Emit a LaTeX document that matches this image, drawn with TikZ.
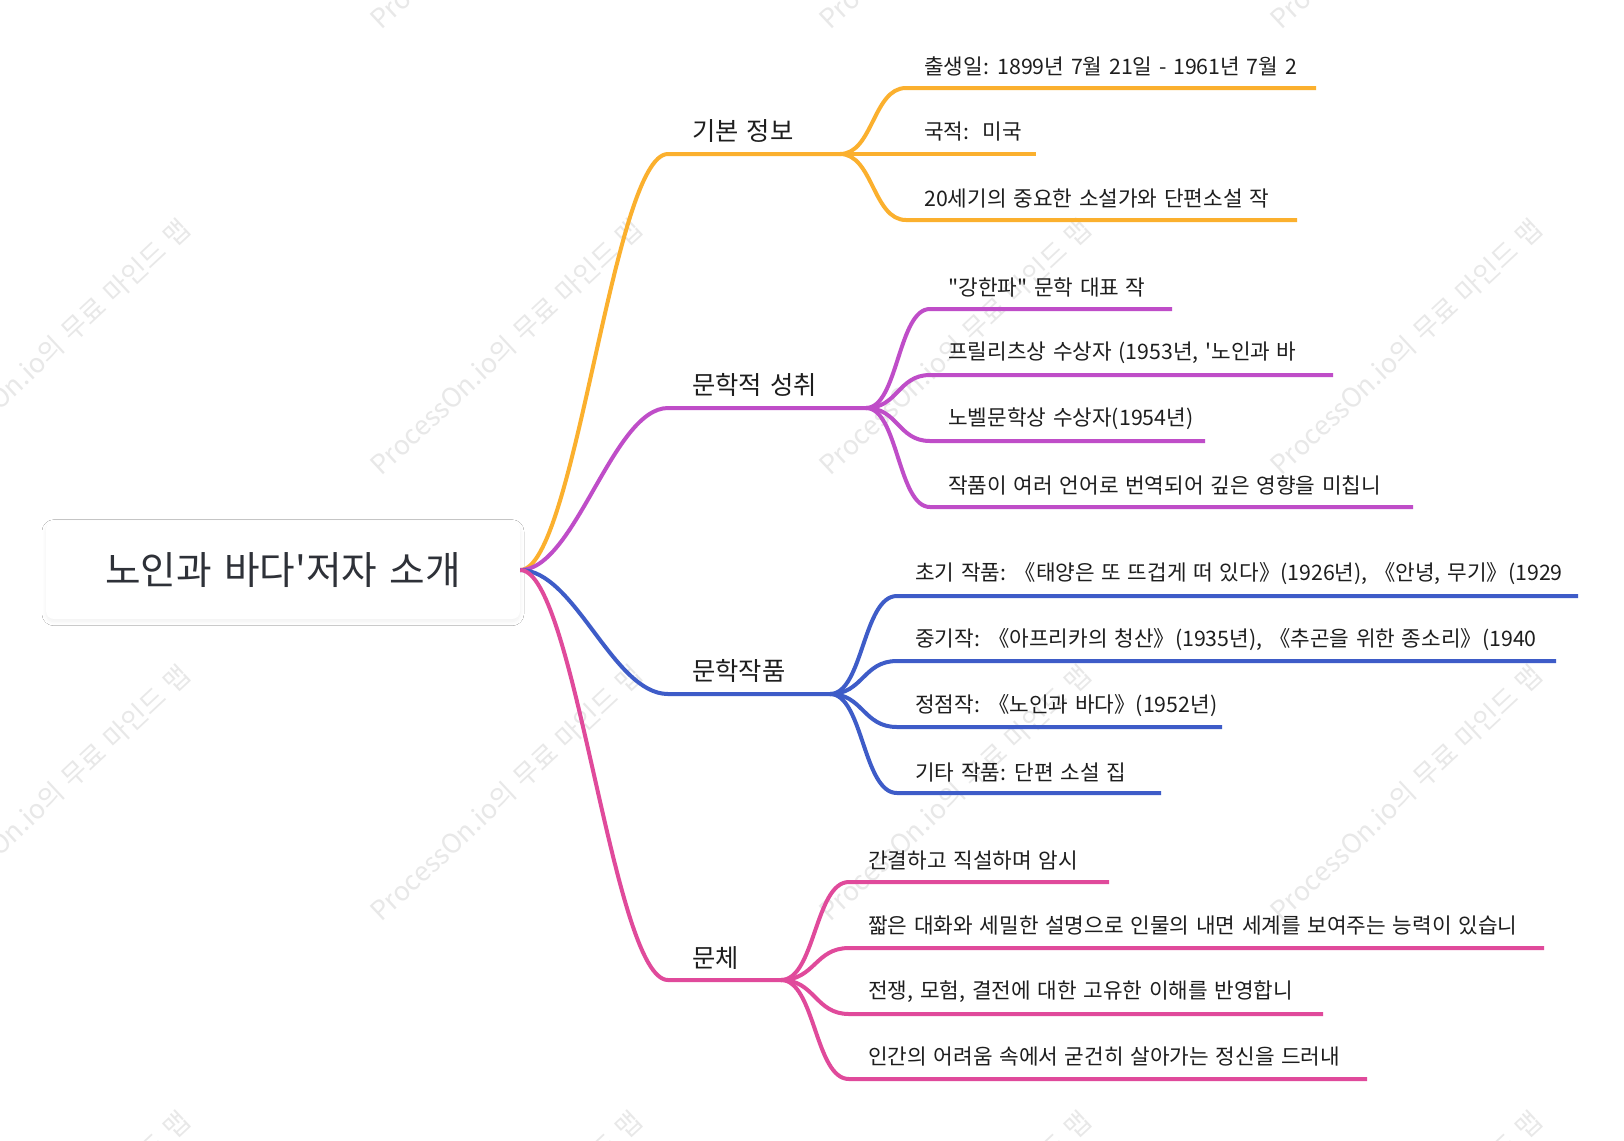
\documentclass[tikz,border=0pt]{standalone}
\usepackage{fontspec}
\setmainfont{Noto Sans CJK KR}[Ligatures=TeXOff, WordSpace=1.4]
\usetikzlibrary{shadows.blur}
\definecolor{corange}{HTML}{FBB02E}
\definecolor{cpurple}{HTML}{BF4DC8}
\definecolor{cblue}{HTML}{3E5CC8}
\definecolor{cpink}{HTML}{E04A9B}
\definecolor{txt}{HTML}{1E1E1E}
\definecolor{roottxt}{HTML}{2E3138}
\definecolor{wmc}{HTML}{E8E8E8}
\begin{document}
\begin{tikzpicture}[x=0.75pt,y=-0.75pt,
  leaf/.style={anchor=west, inner sep=0pt, font=\fontsize{16}{19}\selectfont, text=txt},
  branch/.style={anchor=west, inner sep=0pt, font=\fontsize{19}{23}\selectfont, text=txt},
  conn/.style={line width=3pt, line cap=butt, line join=round},
  wm/.style={rotate=43, inner sep=0pt, font=\fontsize{20}{24}\selectfont, text=wmc},
  rootbox/.style={rounded corners=6pt, fill=white, minimum width=355.5pt, minimum height=73.5pt,
    font=\fontsize{29}{35}\selectfont, text=roottxt,
    blur shadow={shadow blur steps=8, shadow xshift=0pt, shadow yshift=-2pt, shadow blur radius=3pt, shadow opacity=6}}]
\useasboundingbox[fill=white] (0,0) rectangle (1624,1140);

% watermarks
\foreach \wx in {54,506,955,1406}{
  \foreach \wy in {-99,347,793,1239}{
    \node[wm] (wm-\wx-\wy) at (\wx,\wy) {ProcessOn.io의 무료 마인드 맵};
  }
}

% root
\node[rootbox] (root) at (283,570) {노인과 바다'저자 소개};

% ---------- branch 1 ----------
\coordinate (b1s) at (668,154); \coordinate (b1f) at (840,154);
\node[branch] (b1) at (692,131) {기본 정보};
\coordinate (l11s) at (906,88);  \coordinate (l11e) at (1316,88);
\coordinate (l12e) at (1036,154);
\coordinate (l13s) at (906,220); \coordinate (l13e) at (1297,220);
\node[leaf] (l11) at (924,66) {출생일: 1899년 7월 21일 - 1961년 7월 2};
\node[leaf] (l12) at (924,132) {국적:\ \ 미국};
\node[leaf] (l13) at (924,199) {20세기의 중요한 소설가와 단편소설 작};
\draw[conn,corange] (root.east) .. controls (575,570) and (613,154) .. (b1s) -- (b1f);
\draw[conn,corange] (b1f) .. controls (873,154) and (873,88) .. (l11s) -- (l11e);
\draw[conn,corange] (b1f) -- (l12e);
\draw[conn,corange] (b1f) .. controls (873,154) and (873,220) .. (l13s) -- (l13e);

% ---------- branch 2 ----------
\coordinate (b2s) at (668,408); \coordinate (b2f) at (866,408);
\node[branch] (b2) at (692,385) {문학적 성취};
\coordinate (l21s) at (930,309); \coordinate (l21e) at (1172,309);
\coordinate (l22s) at (930,375); \coordinate (l22e) at (1333,375);
\coordinate (l23s) at (930,441); \coordinate (l23e) at (1205,441);
\coordinate (l24s) at (930,507); \coordinate (l24e) at (1413,507);
\node[leaf] (l21) at (948,287) {"강한파" 문학 대표 작};
\node[leaf] (l22) at (948,353) {프릴리츠상 수상자 (1953년, '노인과 바};
\node[leaf] (l23) at (948,419) {노벨문학상 수상자(1954년)};
\node[leaf] (l24) at (948,485) {작품이 여러 언어로 번역되어 깊은 영향을 미칩니};
\draw[conn,cpurple] (root.east) .. controls (575,570) and (613,408) .. (b2s) -- (b2f);
\draw[conn,cpurple] (b2f) .. controls (898,408) and (898,309) .. (l21s) -- (l21e);
\draw[conn,cpurple] (b2f) .. controls (898,408) and (898,375) .. (l22s) -- (l22e);
\draw[conn,cpurple] (b2f) .. controls (898,408) and (898,441) .. (l23s) -- (l23e);
\draw[conn,cpurple] (b2f) .. controls (898,408) and (898,507) .. (l24s) -- (l24e);

% ---------- branch 3 ----------
\coordinate (b3s) at (668,694); \coordinate (b3f) at (830,694);
\node[branch] (b3) at (692,671) {문학작품};
\coordinate (l31s) at (897,596); \coordinate (l31e) at (1578,596);
\coordinate (l32s) at (897,661); \coordinate (l32e) at (1556,661);
\coordinate (l33s) at (897,727); \coordinate (l33e) at (1222,727);
\coordinate (l34s) at (897,793); \coordinate (l34e) at (1161,793);
\node[leaf] (l31) at (915,574) {초기 작품: 《태양은 또 뜨겁게 떠 있다》(1926년), 《안녕, 무기》(1929};
\node[leaf] (l32) at (915,640) {중기작: 《아프리카의 청산》(1935년), 《추곤을 위한 종소리》(1940};
\node[leaf] (l33) at (915,706) {정점작: 《노인과 바다》(1952년)};
\node[leaf] (l34) at (915,772) {기타 작품: 단편 소설 집};
\draw[conn,cblue] (root.east) .. controls (575,570) and (613,694) .. (b3s) -- (b3f);
\draw[conn,cblue] (b3f) .. controls (863,694) and (863,596) .. (l31s) -- (l31e);
\draw[conn,cblue] (b3f) .. controls (863,694) and (863,661) .. (l32s) -- (l32e);
\draw[conn,cblue] (b3f) .. controls (863,694) and (863,727) .. (l33s) -- (l33e);
\draw[conn,cblue] (b3f) .. controls (863,694) and (863,793) .. (l34s) -- (l34e);

% ---------- branch 4 ----------
\coordinate (b4s) at (668,980); \coordinate (b4f) at (781,980);
\node[branch] (b4) at (692,958) {문체};
\coordinate (l41s) at (849,882);  \coordinate (l41e) at (1109,882);
\coordinate (l42s) at (849,948);  \coordinate (l42e) at (1544,948);
\coordinate (l43s) at (849,1014); \coordinate (l43e) at (1323,1014);
\coordinate (l44s) at (849,1079); \coordinate (l44e) at (1367,1079);
\node[leaf] (l41) at (868,861) {간결하고 직설하며 암시};
\node[leaf] (l42) at (868,926) {짧은 대화와 세밀한 설명으로 인물의 내면 세계를 보여주는 능력이 있습니};
\node[leaf] (l43) at (868,992) {전쟁, 모험, 결전에 대한 고유한 이해를 반영합니};
\node[leaf] (l44) at (868,1057) {인간의 어려움 속에서 굳건히 살아가는 정신을 드러내};
\draw[conn,cpink] (root.east) .. controls (575,570) and (613,980) .. (b4s) -- (b4f);
\draw[conn,cpink] (b4f) .. controls (815,980) and (815,882) .. (l41s) -- (l41e);
\draw[conn,cpink] (b4f) .. controls (815,980) and (815,948) .. (l42s) -- (l42e);
\draw[conn,cpink] (b4f) .. controls (815,980) and (815,1014) .. (l43s) -- (l43e);
\draw[conn,cpink] (b4f) .. controls (815,980) and (815,1079) .. (l44s) -- (l44e);
\end{tikzpicture}
\end{document}
